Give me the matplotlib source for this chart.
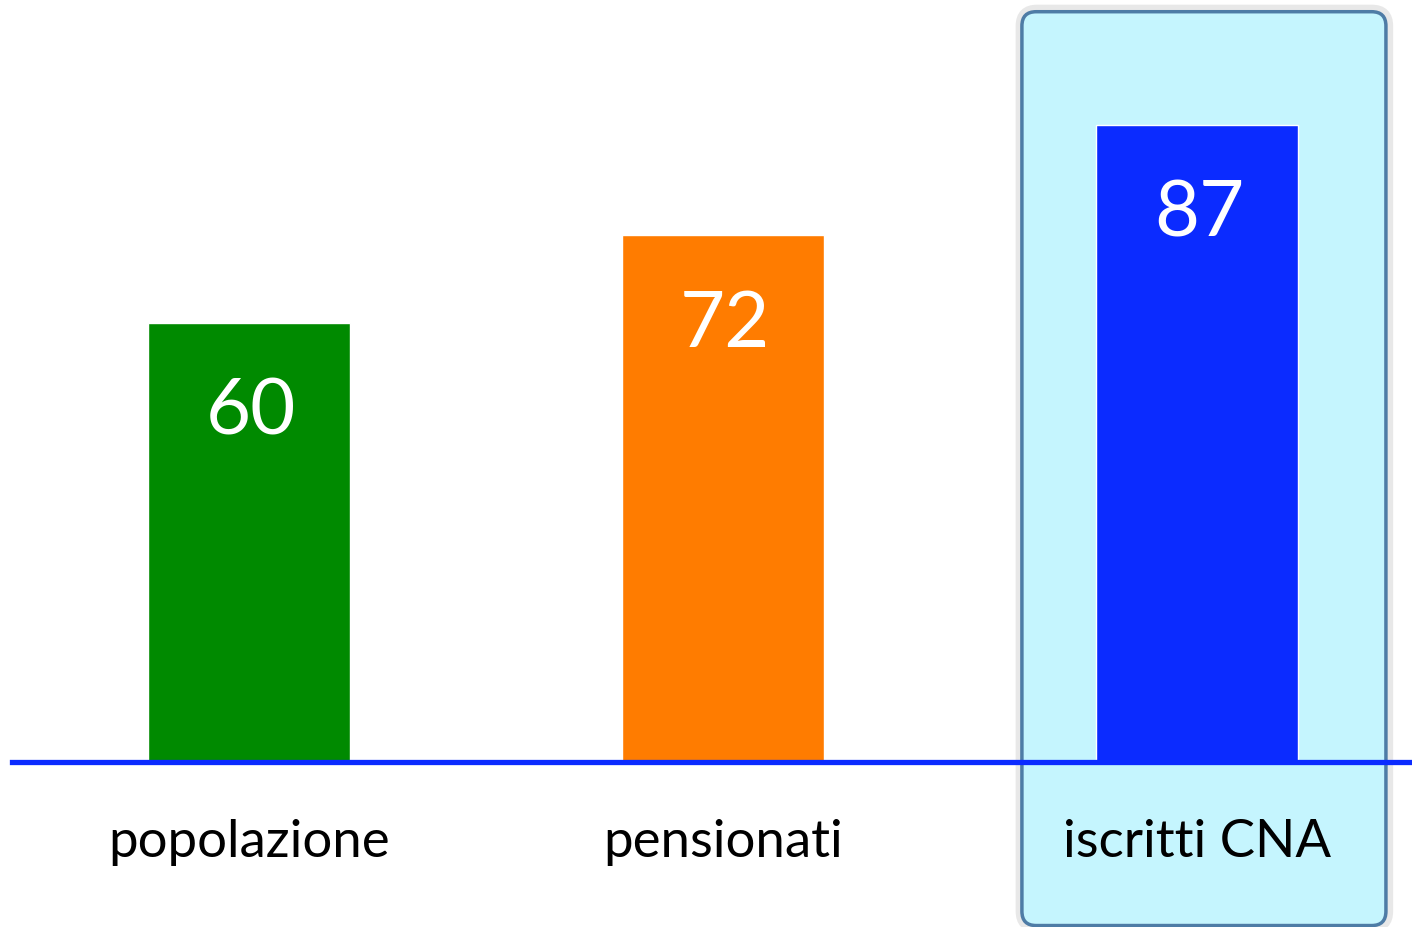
import matplotlib
matplotlib.use("Agg")
import matplotlib.pyplot as plt
from matplotlib.patches import FancyBboxPatch

categories = ["popolazione", "pensionati", "iscritti CNA"]
values = [60, 72, 87]
colors = ["#008a00", "#ff7c00", "#0b2bff"]

plt.rcParams['font.family'] = ['Lato', 'DejaVu Sans']

fig = plt.figure(figsize=(14.12, 9.27), dpi=100)
ax = fig.add_axes([0, 0, 1, 1])
ax.set_xlim(-0.525, 2.454)
ax.set_ylim(-22.5, 104.1)
ax.axis('off')

# px per data unit: x 474, y 7.32
asp = 474 / 7.32

# highlight box behind the last category
shadow = FancyBboxPatch((1.628, -22.6), 0.776, 125.4,
                        boxstyle="round,pad=0,rounding_size=0.035",
                        mutation_aspect=asp,
                        facecolor="none", edgecolor="#e8e8e8", linewidth=7, zorder=0.5)
hl = FancyBboxPatch((1.631, -22.3), 0.768, 124.8,
                    boxstyle="round,pad=0,rounding_size=0.03",
                    mutation_aspect=asp,
                    facecolor="#c5f5fe", edgecolor="#4e7ca6", linewidth=2.5, zorder=1)
ax.add_patch(shadow)
ax.add_patch(hl)

x = range(len(categories))
ax.bar(x, values, width=0.426, color=colors, edgecolor="white", linewidth=1, zorder=2)

for xi, v in zip(x, values):
    ax.text(xi + 0.005, v - 12.3, str(v), ha='center', va='center',
            color='white', fontsize=56, zorder=3)
    ax.text(xi, -10.9, categories[xi], ha='center', va='center',
            color='black', fontsize=38, zorder=3)

ax.axhline(0, xmin=12 / 1412, xmax=1, color="#0b2bff", linewidth=3.8, zorder=4)

fig.savefig("out.png", dpi=100)
